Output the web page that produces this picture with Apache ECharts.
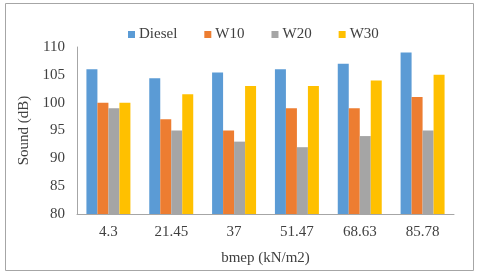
<!DOCTYPE html>
<html><head><meta charset="utf-8">
<script src="https://cdn.jsdelivr.net/npm/echarts@6/dist/echarts.min.js"></script>
<style>html,body{margin:0;padding:0;background:#fff}#c{width:480px;height:275px}</style>
</head><body><div id="c"></div>
<script>
const categories = ['4.3','21.45','37','51.47','68.63','85.78'];
const seriesNames = ['Diesel','W10','W20','W30'];
const diesel = [106, 104.4, 105.4, 106, 107, 109];
const w10 = [100, 97, 95, 99, 99, 101];
const w20 = [99, 95, 93, 92, 94, 95];
const w30 = [100, 101.5, 103, 103, 104, 105];
const colors = ['#5B9BD5','#ED7D31','#A5A5A5','#FFC000'];
const font = '"Liberation Serif", "Times New Roman", serif';
const chart = echarts.init(document.getElementById('c'), null, {renderer:'canvas'});
const data = [diesel, w10, w20, w30];
chart.setOption({
  animation:false,
  color: colors,
  textStyle:{fontFamily:font},
  graphic:[{type:'rect',shape:{x:5.5,y:3.5,width:468,height:267},style:{fill:'none',stroke:'#a6a6a6',lineWidth:1},silent:true}],
  legend:{top:22,left:123,itemWidth:7,itemHeight:7,itemGap:27,icon:'rect',
    textStyle:{fontFamily:font,fontSize:15,color:'#404040',padding:[0,0,0,-1]},data:seriesNames},
  grid:{left:77,right:26,top:47,bottom:61},
  xAxis:{type:'category',data:categories,
    axisLine:{lineStyle:{color:'#a6a6a6'}},axisTick:{show:false},
    axisLabel:{fontFamily:font,fontSize:15,color:'#404040',margin:11},
    name:'bmep (kN/m2)',nameLocation:'middle',nameGap:37,
    nameTextStyle:{fontFamily:font,fontSize:15,color:'#404040'}},
  yAxis:{type:'value',min:80,max:110,interval:5,
    axisLine:{show:true,lineStyle:{color:'#a6a6a6'}},axisTick:{show:false},splitLine:{show:false},
    axisLabel:{fontFamily:font,fontSize:15,color:'#404040',margin:12},
    name:'Sound (dB)',nameLocation:'middle',nameGap:36,nameRotate:90,
    nameTextStyle:{fontFamily:font,fontSize:15,color:'#404040'}},
  series: seriesNames.map((n,i)=>({name:n,type:'bar',data:data[i],barGap:'0%',barCategoryGap:'30%'}))
});
</script></body></html>
